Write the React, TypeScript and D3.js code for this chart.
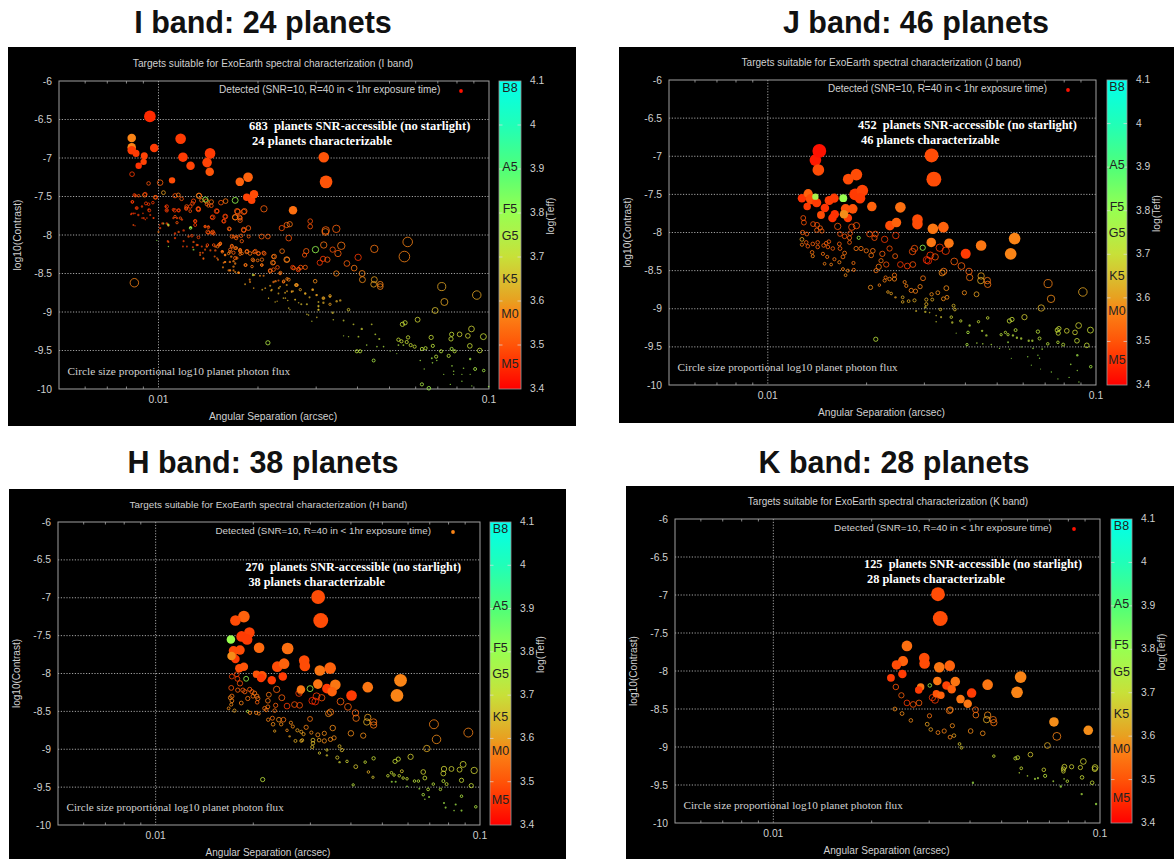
import React from "react";
import * as d3 from "d3";

type Planet = [number, number, number, number]; // log10(sep), log10(contrast), log10(Teff), log10 flux size

const yTicks = [-6, -6.5, -7, -7.5, -8, -8.5, -9, -9.5, -10];
const xMinor = [0.006, 0.007, 0.008, 0.009, 0.02, 0.03, 0.04, 0.05, 0.06, 0.07, 0.08, 0.09];
const teffTicks = [3.4, 3.5, 3.6, 3.7, 3.8, 3.9, 4, 4.1];
const spectral: [string, number][] = [["B8", 4.083], ["A5", 3.905], ["F5", 3.809], ["G5", 3.748], ["K5", 3.65], ["M0", 3.57], ["M5", 3.457]];
const teffStops = [3.4, 3.45, 3.5, 3.57, 3.6, 3.65, 3.7, 3.75, 3.8, 3.9, 4, 4.1];
const teffColors = ["#ff0000", "#ff2a00", "#ff5408", "#fa8416", "#e8a020", "#d8c030", "#c8e038", "#b0f048", "#98ff50", "#50ff78", "#20ffb8", "#00ffec"];

const iFilled: Planet[] = [
  [-2.026,-6.46,3.45,5.5],[-2.081,-6.74,3.57,4],[-2.081,-6.86,3.57,4],[-2.081,-6.9,3.47,4],[-2.068,-6.94,3.47,3.3],[-2.043,-6.97,3.48,3.3],[-2.013,-6.87,3.47,4],[-2.045,-7.05,3.48,3],[-2.06,-7.1,3.46,3],[-1.933,-6.75,3.47,5],[-1.926,-6.99,3.47,4.5],[-1.903,-7.1,3.48,4],[-1.844,-6.94,3.47,5],[-1.853,-7.06,3.48,4.5],[-1.845,-7.18,3.5,4],[-1.959,-7.29,3.49,3],[-1.754,-7.31,3.52,4],[-1.729,-7.25,3.52,4.5],[-1.733,-7.51,3.48,3.5],[-1.718,-7.55,3.48,3.5],[-1.711,-7.47,3.49,4],[-1.593,-7.68,3.54,4],[-1.5,-6.99,3.5,5],[-1.493,-7.31,3.5,6],
];
const iOpen: Planet[] = [
  [-2.08,-7.21,3.47,2.2],[-2.03,-7.33,3.5,1.7],[-1.995,-7.32,3.52,2.6],[-1.985,-7.45,3.6,1.8],[-2.042,-7.48,3.55,2],[-2.07,-7.49,3.5,1.2],[-2.06,-7.49,3.5,1.2],[-2.01,-7.51,3.55,1.7],[-1.95,-7.49,3.5,2],[-1.94,-7.48,3.55,1.8],[-1.93,-7.53,3.5,1.7],[-1.878,-7.49,3.6,2.4],[-1.87,-7.55,3.55,1.7],[-1.855,-7.56,3.55,2],[-1.858,-7.54,3.8,2.4],[-1.84,-7.57,3.55,2],[-1.84,-7.62,3.5,1.7],[-1.897,-7.59,3.5,1.7],[-1.915,-7.63,3.5,1.7],[-1.88,-7.66,3.5,2],[-1.811,-7.58,3.5,2.2],[-1.797,-7.56,3.55,2.2],[-1.768,-7.55,3.8,2.8],[-1.762,-7.69,3.52,2.5],[-1.74,-7.69,3.52,2.5],[-1.768,-7.77,3.55,2.5],[-1.755,-7.77,3.52,2.2],[-1.753,-7.81,3.52,2],[-1.742,-7.93,3.52,2.2],[-1.728,-7.91,3.52,2.2],[-1.681,-7.66,3.52,3],[-1.688,-8.02,3.52,2.3],[-1.669,-8.02,3.52,2.2],[-1.627,-7.91,3.5,2.5],[-1.612,-7.87,3.52,2.5],[-1.603,-7.86,3.55,2.5],[-1.606,-8.04,3.5,2.7],[-1.541,-7.82,3.5,2.2],[-1.541,-7.89,3.5,2.2],[-1.494,-7.94,3.52,3.5],[-1.462,-7.92,3.52,3.5],
  [-1.246,-8.09,3.57,4.5],[-1.256,-8.28,3.57,5],[-1.495,-7.96,3.55,3.2],[-1.525,-8.19,3.8,3],[-1.5,-8.13,3.55,3],[-1.447,-8.14,3.55,3.5],[-1.347,-8.18,3.55,3.5],[-1.473,-8.19,3.5,2.5],[-1.457,-8.24,3.52,3],[-1.553,-8.21,3.52,2.5],[-1.558,-8.26,3.5,2],[-1.502,-8.31,3.47,2.5],[-1.512,-8.36,3.47,2.5],[-1.489,-8.32,3.52,2.5],[-1.396,-8.29,3.47,3],[-1.43,-8.37,3.52,2.7],[-1.408,-8.43,3.55,2.7],[-1.384,-8.5,3.57,2.8],[-1.383,-8.58,3.58,2.8],[-1.462,-8.5,3.57,2.5],[-1.347,-8.58,3.6,2.8],[-1.349,-8.64,3.6,2.7],[-1.329,-8.64,3.57,2.7],[-1.329,-8.67,3.57,2.7],[-1.143,-8.67,3.61,3.8],[-1.037,-8.78,3.61,4],[-1.135,-8.87,3.61,3.3],[-1.163,-8.98,3.65,2.8],[-1.216,-9.1,3.68,2.3],[-1.254,-9.14,3.7,2],[-1.262,-9.16,3.7,2],[-1.053,-9.22,3.68,2.7],[-1.089,-9.29,3.68,2.2],[-1.064,-9.31,3.68,2.2],[-1.017,-9.32,3.7,2.8],[-1.113,-9.29,3.7,2],[-1.115,-9.35,3.7,2],[-1.175,-9.33,3.7,2],[-1.058,-9.44,3.7,2.2],[-1.028,-9.5,3.7,2.2],[-1.245,-9.33,3.7,1.6],[-1.274,-9.36,3.7,1.6],[-1.265,-9.38,3.7,1.5],[-1.249,-9.39,3.7,1.5],[-1.237,-9.43,3.7,1.5],[-1.225,-9.45,3.7,1.5],[-1.203,-9.48,3.72,1.5],[-1.192,-9.47,3.72,1.5],[-1.17,-9.44,3.72,1.5],[-1.145,-9.51,3.72,1.5],[-1.113,-9.48,3.75,1.5],[-1.104,-9.51,3.72,1.5],[-1.122,-9.57,3.72,1.5],[-1.16,-9.58,3.72,1.5],[-1.4,-9.51,3.72,1.5],[-1.39,-9.51,3.72,1.5],[-1.349,-9.63,3.75,1.4],[-1.203,-9.94,3.75,1.5],[-1.182,-9.99,3.78,1.7],[-1.042,-9.74,3.75,1.4],
  [-2.073,-8.62,3.57,4],[-1.669,-9.4,3.74,2],[-1.972,-8.08,3.48,0.9],[-1.924,-8.08,3.48,0.9],[-1.899,-8.01,3.48,1.2],[-1.879,-8.03,3.48,1.3],[-1.849,-7.97,3.5,1.5],[-1.833,-7.98,3.5,1.5],[-1.926,-8.15,3.48,0.8],[-1.914,-8.15,3.48,0.8],[-1.896,-8.16,3.48,0.9],[-1.881,-8.13,3.48,0.9],[-1.869,-8.15,3.48,0.9],[-1.852,-8.13,3.48,1.2],[-1.833,-8.13,3.5,1.2],[-1.818,-8.13,3.5,1.3],[-1.813,-8.11,3.5,1.3],[-1.866,-8.23,3.5,0.9],[-1.859,-8.19,3.5,0.9],[-1.843,-8.2,3.5,0.9],[-1.828,-8.2,3.5,1],[-1.808,-8.21,3.5,1],[-1.783,-8.19,3.52,1.5],[-1.773,-8.23,3.52,1.5],[-1.753,-8.2,3.52,1.5],[-1.768,-8.3,3.52,1.5],[-1.732,-8.21,3.52,1.7],[-1.707,-8.21,3.52,1.7],[-1.697,-8.24,3.52,1.7],[-1.682,-8.23,3.52,1.5],[-1.737,-8.39,3.55,1.4],[-1.715,-8.32,3.55,1.5],[-1.687,-8.32,3.55,1.6],[-1.717,-8.41,3.55,1.2],[-1.687,-8.39,3.55,1.2],[-1.652,-8.28,3.55,1.7],[-1.626,-8.21,3.55,2.2],[-1.611,-8.32,3.55,2.3],[-1.652,-8.36,3.55,1.7],[-1.662,-8.47,3.55,1.7],[-1.631,-8.49,3.55,1.4],[-1.591,-8.43,3.55,1.7],[-1.576,-8.44,3.55,1.5],[-1.864,-8.3,3.52,0.8],[-1.823,-8.3,3.52,0.8],[-1.803,-8.36,3.55,0.8],[-1.783,-8.46,3.55,0.9],[-1.758,-8.49,3.55,1],[-1.724,-8.58,3.57,0.9],[-1.714,-8.52,3.74,1],[-1.682,-8.53,3.57,0.9],[-1.646,-8.6,3.57,1],[-1.621,-8.6,3.57,1.2],[-1.606,-8.58,3.57,1.4],[-1.712,-8.69,3.6,0.7],[-1.677,-8.69,3.6,0.8],[-1.657,-8.71,3.6,0.8],[-1.636,-8.69,3.6,0.9],[-1.581,-8.65,3.57,1.2],[-1.611,-8.73,3.6,0.8],[-1.593,-8.73,3.6,0.8],[-1.667,-8.82,3.62,0.6],[-1.641,-8.86,3.62,0.6],[-1.616,-8.82,3.62,0.7],[-1.586,-8.84,3.62,0.7],[-1.606,-8.95,3.64,0.7],[-1.576,-8.88,3.64,0.7],
  [-1.597,-8.73,3.6,0.8],[-1.582,-8.65,3.57,1.2],[-1.556,-8.76,3.6,1],[-1.533,-8.71,3.6,1],[-1.521,-8.78,3.6,0.9],[-1.501,-8.82,3.62,1],[-1.481,-8.8,3.62,1],[-1.461,-8.86,3.62,1],[-1.45,-8.85,3.62,1],[-1.516,-8.87,3.64,0.8],[-1.516,-8.93,3.64,0.8],[-1.516,-8.97,3.64,0.8],[-1.551,-9.03,3.66,0.7],[-1.536,-9.12,3.68,0.6],[-1.471,-9.1,3.68,0.7],[-1.44,-9.11,3.68,0.8],[-1.425,-8.97,3.66,1.2],[-1.41,-9.16,3.68,0.8],[-1.385,-9.22,3.68,1],[-1.355,-9.16,3.68,0.8],[-1.395,-9.32,3.7,0.8],[-1.344,-9.29,3.7,0.8],[-1.332,-9.35,3.7,0.9],[-1.44,-9.31,3.72,0.6],[-1.425,-9.32,3.72,0.6],[-1.37,-9.43,3.74,0.7],[-1.339,-9.45,3.74,0.7],[-1.319,-9.45,3.74,0.7],[-1.274,-9.43,3.74,0.8],[-1.259,-9.43,3.74,0.8],[-1.299,-9.51,3.76,0.5],[-1.279,-9.54,3.76,0.5],[-1.208,-9.63,3.76,0.7],[-1.196,-9.74,3.76,0.6],[-1.173,-9.6,3.76,0.8],[-1.158,-9.63,3.76,0.7],[-1.171,-9.66,3.76,0.7],[-1.112,-9.7,3.76,0.7],[-1.077,-9.73,3.76,0.7],[-1.107,-9.77,3.76,0.7],[-1.137,-9.81,3.76,0.6],[-1.107,-9.81,3.76,0.6],[-1.082,-9.81,3.76,0.6],[-1.057,-9.81,3.76,0.6],[-1.016,-9.76,3.76,1.2],[-1.057,-9.61,3.76,1],[-1.117,-9.94,3.78,0.6],[-1.082,-9.9,3.78,0.6],[-1.052,-9.96,3.78,0.6],[-1.001,-9.97,3.78,0.7],
  [-2.079,-7.57,3.47,1.1],[-2.066,-7.65,3.47,1],[-2.05,-7.63,3.47,1],[-2.03,-7.6,3.47,1.2],[-2.017,-7.58,3.47,1.2],[-2.071,-7.72,3.45,0.7],[-2.081,-7.72,3.45,0.7],[-2.047,-7.72,3.47,0.7],[-2.03,-7.67,3.47,0.9],[-2.05,-7.78,3.47,0.7],[-2.035,-7.78,3.47,0.7],[-2.015,-7.78,3.47,0.7],[-2.071,-7.88,3.45,0.6],[-2.04,-7.8,3.47,0.7],[-1.997,-7.87,3.47,0.7],[-1.978,-7.63,3.48,1],[-1.975,-7.68,3.48,1],[-1.955,-7.67,3.48,1.1],[-1.939,-7.68,3.48,1.1],[-1.955,-7.78,3.48,1],[-1.944,-7.78,3.48,1],[-1.929,-7.8,3.48,1],[-1.904,-7.9,3.5,0.9],[-1.889,-7.82,3.5,1.2],[-1.879,-7.66,3.5,1.7],[-1.904,-7.69,3.5,1.3],[-1.916,-7.65,3.5,1.4],[-1.854,-7.6,3.52,1.5],[-1.849,-7.62,3.52,1.4],[-1.823,-7.69,3.5,1.7],[-1.838,-7.77,3.5,1.5],[-1.798,-7.76,3.5,1.7],[-1.803,-7.82,3.5,1.5],[-1.859,-7.89,3.5,1.2],[-1.849,-7.9,3.5,1.2],[-1.838,-7.97,3.5,1.4],[-1.785,-7.92,3.52,1.3],[-1.763,-8.02,3.52,1.2],[-1.727,-8.02,3.52,1.4],[-1.773,-8.02,3.52,1.2],[-1.972,-7.86,3.8,0.8],[-1.985,-7.85,3.8,0.8],[-1.97,-7.88,3.5,0.9],[-1.902,-7.9,3.8,1],
];
const iBand: Planet[] = [
  [-1.854,-8.15,3.52,1],[-1.828,-8.15,3.52,1],[-1.813,-8.11,3.55,1.1],[-1.806,-8.21,3.55,1],[-1.798,-8.26,3.57,1],[-1.83,-8.28,3.52,0.9],[-1.82,-8.32,3.55,0.9],[-1.788,-8.24,3.57,1.1],[-1.778,-8.14,3.55,1.4],[-1.765,-8.17,3.55,1.4],[-1.753,-8.21,3.55,1.4],[-1.747,-8.24,3.55,1.2],[-1.78,-8.28,3.57,1],[-1.773,-8.34,3.57,1],[-1.763,-8.3,3.55,1.1],[-1.798,-8.35,3.57,0.9],[-1.805,-8.42,3.57,0.9],[-1.788,-8.46,3.57,0.9],[-1.773,-8.46,3.57,0.9],[-1.757,-8.49,3.57,0.9],[-1.874,-8.23,3.52,0.9],[-1.864,-8.31,3.52,0.9],[-1.874,-8.26,3.52,0.9],[-1.884,-8.13,3.5,1],[-1.894,-8.09,3.5,1],[-1.909,-8.02,3.5,1],[-1.939,-7.96,3.5,1],[-1.95,-7.98,3.47,1],[-1.95,-8.04,3.47,1],[-1.97,-8.09,3.5,0.9],[-1.924,-7.94,3.47,1],[-1.975,-7.85,3.47,1],[-1.995,-7.91,3.48,1],[-2,-7.96,3.55,0.9],[-1.988,-7.85,3.47,1],[-2.015,-7.78,3.47,0.9],[-2.025,-7.74,3.47,0.9],[-2.045,-7.78,3.47,1],[-2.061,-7.74,3.47,1],[-2.076,-7.87,3.5,0.8],[-2.076,-7.72,3.47,0.9],[-2.083,-7.73,3.47,0.9],[-2.066,-7.65,3.47,1.4],[-2.038,-7.59,3.47,1.4],[-2.028,-7.68,3.47,1.4],[-2.079,-7.57,3.47,1.3],[-2.073,-7.48,3.47,1.3],[-2.04,-7.47,3.47,1.7],[-2.008,-7.51,3.48,1.7],[-1.975,-7.63,3.47,1.6],[-1.975,-7.68,3.47,1.6],[-1.951,-7.68,3.47,1.6],[-1.939,-7.68,3.47,1.6],[-1.95,-7.76,3.5,1.1],[-1.934,-7.78,3.5,1.1],[-1.944,-7.84,3.5,1.1],[-1.904,-7.63,3.48,1.7],[-1.916,-7.66,3.48,1.5],[-1.879,-7.67,3.48,2],[-1.894,-7.56,3.48,2],[-1.877,-7.49,3.52,2.4],[-1.889,-7.82,3.47,1.6],[-1.889,-7.87,3.47,1.4],[-1.903,-7.91,3.8,1.2],[-1.97,-7.87,3.72,1],[-1.851,-7.96,3.5,1.8],[-1.836,-7.96,3.5,1.7],[-1.859,-7.89,3.5,1],[-1.849,-7.89,3.5,1],[-1.894,-8.19,3.8,0.8],[-1.97,-8.15,3.8,0.6],[-2.005,-8.07,3.8,0.5],[-1.836,-7.77,3.47,2.2],[-1.798,-7.76,3.47,2.3],[-1.802,-7.82,3.47,1.9],[-1.824,-7.69,3.47,2.3],[-1.76,-7.7,3.5,2.5],[-1.742,-7.7,3.5,2.5],[-1.768,-7.77,3.55,2.5],[-1.753,-7.78,3.52,2],[-1.786,-7.92,3.52,1.8],[-1.778,-8.02,3.52,1.6],[-1.765,-8.04,3.52,1.6],[-1.75,-8.01,3.52,1.6],[-1.748,-8.08,3.52,1.6],[-1.742,-7.94,3.5,2],
  [-1.814,-8.12,3.55,1.3],[-1.821,-8.15,3.55,1.3],[-1.807,-8.22,3.55,1.1],[-1.799,-8.26,3.55,1],[-1.784,-8.22,3.55,1.2],[-1.768,-8.17,3.55,1.3],[-1.753,-8.19,3.55,1.2],[-1.753,-8.25,3.55,1.2],[-1.778,-8.15,3.52,1.5],[-1.733,-8.22,3.55,1.7],[-1.723,-8.24,3.55,1.7],[-1.71,-8.22,3.52,1.7],[-1.698,-8.24,3.52,1.7],[-1.68,-8.24,3.52,1.7],[-1.7,-8.33,3.55,1.3],[-1.713,-8.33,3.55,1.3],[-1.736,-8.39,3.55,1.2],[-1.688,-8.39,3.55,1.2],[-1.784,-8.35,3.55,1],[-1.768,-8.37,3.57,1],[-1.799,-8.35,3.57,0.9],[-1.773,-8.41,3.57,1],[-1.784,-8.46,3.57,0.9],[-1.768,-8.48,3.58,0.9],[-1.758,-8.49,3.58,1],[-1.723,-8.61,3.58,0.9],[-1.738,-8.64,3.6,0.8],[-1.686,-8.71,3.62,0.8],[-1.71,-8.52,3.58,0.9],[-1.693,-8.53,3.58,0.9],[-1.652,-8.61,3.55,1],[-1.637,-8.59,3.52,0.9],[-1.622,-8.61,3.55,1.1],[-1.611,-8.57,3.57,1.2],[-1.662,-8.66,3.6,0.9],[-1.659,-8.72,3.62,0.9],[-1.632,-8.67,3.62,0.8],[-1.612,-8.65,3.6,0.9],[-1.584,-8.65,3.6,1.4],[-1.571,-8.71,3.6,1.1],[-1.617,-8.75,3.62,0.8],[-1.637,-8.76,3.62,0.8],[-1.597,-8.74,3.6,0.8],[-1.556,-8.76,3.62,0.9],[-1.534,-8.71,3.6,1],[-1.522,-8.78,3.6,1],[-1.543,-8.81,3.62,0.9],[-1.526,-8.6,3.58,1.7],[-1.501,-8.82,3.6,1.3],[-1.481,-8.79,3.6,1.2],[-1.481,-8.9,3.6,1.1],[-1.501,-8.88,3.62,1],[-1.647,-8.87,3.64,0.7],[-1.667,-8.82,3.64,0.5],[-1.622,-8.82,3.64,0.7],[-1.609,-8.85,3.64,0.7],[-1.587,-8.84,3.64,0.7],[-1.568,-8.9,3.65,0.9],[-1.551,-8.9,3.65,0.9],[-1.602,-8.97,3.65,0.6],[-1.516,-8.92,3.65,0.9],[-1.516,-8.97,3.65,0.9],[-1.546,-9.04,3.65,0.7],[-1.521,-9.07,3.65,0.7],[-1.473,-9.01,3.65,1],[-1.662,-8.46,3.52,1.7],[-1.652,-8.45,3.52,1.7],[-1.65,-8.28,3.55,2.2],[-1.654,-8.36,3.55,2.2],[-1.612,-8.32,3.57,2.7],[-1.64,-8.42,3.5,1.7],[-1.594,-8.42,3.47,1.9],[-1.577,-8.45,3.47,2],[-1.57,-8.42,3.5,2],[-1.556,-8.42,3.52,2],[-1.632,-8.5,3.55,1.2],
];

const jFilled: Planet[] = [
  [-1.855,-7.05,3.43,5.5],[-1.843,-6.93,3.42,6.5],[-1.846,-7.18,3.49,5.5],[-1.755,-7.3,3.49,5],[-1.73,-7.24,3.49,5.5],[-1.896,-7.55,3.46,4],[-1.877,-7.49,3.52,4.3],[-1.868,-7.56,3.49,5],[-1.851,-7.61,3.47,4.3],[-1.88,-7.66,3.47,3.5],[-1.855,-7.53,3.76,3],[-1.813,-7.58,3.47,4.3],[-1.798,-7.55,3.47,4.3],[-1.77,-7.55,3.8,3.7],[-1.826,-7.68,3.46,4],[-1.838,-7.77,3.49,3.7],[-1.796,-7.76,3.46,4],[-1.803,-7.81,3.46,4],[-1.763,-7.69,3.5,4.5],[-1.741,-7.69,3.5,4.5],[-1.756,-7.81,3.47,4],[-1.768,-7.76,3.58,4],[-1.734,-7.5,3.47,5.5],[-1.712,-7.45,3.48,5.5],[-1.719,-7.55,3.47,5],[-1.683,-7.66,3.52,4.5],[-1.596,-7.67,3.54,5],[-1.628,-7.91,3.49,4.5],[-1.608,-7.87,3.52,4.5],[-1.544,-7.83,3.49,5],[-1.544,-7.89,3.49,5],[-1.497,-7.95,3.55,5],[-1.465,-7.93,3.52,5],[-1.501,-6.99,3.49,6.5],[-1.494,-7.3,3.49,7],[-1.502,-8.13,3.55,4.5],[-1.448,-8.14,3.55,4.5],[-1.397,-8.28,3.47,4.7],[-1.35,-8.17,3.55,5],[-1.248,-8.08,3.57,5.5],[-1.26,-8.28,3.57,5.5],
];
const jOpen: Planet[] = [
  [-1.892,-7.81,3.5,2.3],[-1.89,-7.87,3.5,2.3],[-1.862,-7.89,3.5,2.3],[-1.85,-7.9,3.5,2.3],[-1.851,-7.97,3.52,2],[-1.84,-7.94,3.52,2],[-1.835,-7.98,3.52,2],[-1.787,-7.92,3.5,3],[-1.744,-7.93,3.5,3],[-1.73,-7.91,3.5,3],[-1.894,-8,3.52,2],[-1.881,-8.02,3.52,1.8],[-1.896,-8.09,3.6,1.8],[-1.896,-8.16,3.55,1.5],[-1.883,-8.13,3.52,1.7],[-1.878,-8.18,3.52,1.7],[-1.863,-8.15,3.52,1.7],[-1.848,-8.13,3.52,1.7],[-1.848,-8.19,3.52,1.7],[-1.865,-8.26,3.55,1.7],[-1.863,-8.31,3.57,1.5],[-1.83,-8.17,3.52,1.7],[-1.822,-8.14,3.52,1.7],[-1.814,-8.12,3.52,1.7],[-1.817,-8.19,3.52,1.7],[-1.802,-8.21,3.52,1.7],[-1.832,-8.28,3.55,1.5],[-1.819,-8.32,3.55,1.5],[-1.827,-8.41,3.57,1.3],[-1.807,-8.42,3.57,1.3],[-1.797,-8.35,3.55,1.5],[-1.782,-8.15,3.52,1.8],[-1.78,-8.21,3.52,1.8],[-1.78,-8.02,3.5,2.2],[-1.766,-8.05,3.5,2.2],[-1.749,-8.01,3.5,2.2],[-1.751,-8.07,3.52,2],[-1.751,-8.13,3.52,1.8],[-1.766,-8.27,3.55,1.8],[-1.771,-8.32,3.55,1.8],[-1.782,-8.39,3.57,1.5],[-1.771,-8.48,3.57,1.4],[-1.756,-8.5,3.57,1.4],[-1.739,-8.4,3.55,1.5],[-1.738,-8.49,3.55,1.5],[-1.763,-8.56,3.58,1.3],[-1.731,-8.21,3.55,2],[-1.716,-8.21,3.55,2],[-1.7,-8.24,3.55,2],[-1.685,-8.3,3.55,2.2],[-1.68,-8.24,3.55,2.2],[-1.69,-8.02,3.5,2.7],[-1.672,-8.02,3.5,2.7],[-1.675,-8.07,3.5,2.5],[-1.644,-8.09,3.47,3],[-1.61,-8.04,3.47,3],[-1.723,-8.07,3.8,1.5],[-1.629,-8.21,3.5,2.5],[-1.651,-8.28,3.52,2.5],[-1.655,-8.37,3.55,2],[-1.612,-8.31,3.52,2.3],[-1.639,-8.42,3.5,2.5],[-1.662,-8.45,3.55,2.5],[-1.67,-8.5,3.55,2],[-1.596,-8.42,3.47,2.7],[-1.575,-8.44,3.47,2.7],[-1.558,-8.42,3.5,2.7],[-1.553,-8.21,3.5,3],[-1.559,-8.25,3.5,3],[-1.528,-8.2,3.8,2.5],[-1.516,-8.36,3.45,3.2],[-1.511,-8.37,3.45,3.2],[-1.505,-8.3,3.47,3.2],[-1.49,-8.32,3.5,3],[-1.476,-8.2,3.47,3.5],[-1.458,-8.24,3.47,3.5],[-1.432,-8.38,3.52,3.2],[-1.41,-8.44,3.52,3.2],[-1.387,-8.51,3.52,3],[-1.385,-8.59,3.55,3],[-1.464,-8.51,3.55,3],[-1.469,-8.53,3.58,2.8],[-1.35,-8.57,3.6,3],[-1.351,-8.63,3.62,3],[-1.331,-8.63,3.55,3],[-1.33,-8.68,3.55,3],[-1.146,-8.67,3.57,3.8],[-1.137,-8.87,3.58,3.5],[-1.167,-8.99,3.63,3],[-1.218,-9.11,3.67,2.5],[-1.256,-9.14,3.7,2],[-1.264,-9.16,3.7,2],[-1.671,-9.4,3.72,2],
  [-1.527,-8.6,3.55,2.3],[-1.536,-8.71,3.57,2],[-1.563,-8.76,3.57,2],[-1.55,-8.77,3.57,2],[-1.583,-8.65,3.57,1.5],[-1.578,-8.7,3.57,1.5],[-1.614,-8.56,3.55,2],[-1.614,-8.61,3.57,2],[-1.629,-8.61,3.57,1.7],[-1.644,-8.63,3.57,1.5],[-1.641,-8.59,3.55,1.5],[-1.66,-8.69,3.57,1.2],[-1.687,-8.72,3.58,2],[-1.634,-8.78,3.6,1.2],[-1.624,-8.8,3.6,1.2],[-1.611,-8.85,3.6,1],[-1.589,-8.85,3.62,1.3],[-1.571,-8.9,3.62,1.3],[-1.553,-8.89,3.62,1.5],[-1.589,-8.91,3.62,1.2],[-1.517,-8.88,3.62,1.5],[-1.517,-8.94,3.62,1.5],[-1.499,-8.88,3.62,1.4],[-1.501,-8.81,3.58,1.6],[-1.482,-8.79,3.58,1.8],[-1.465,-8.87,3.58,1.8],[-1.454,-8.85,3.58,1.8],[-1.456,-8.73,3.58,2.3],[-1.401,-8.79,3.58,2],[-1.364,-8.81,3.6,2.3],[-1.474,-9.01,3.64,1.2],[-1.434,-8.96,3.64,1.4],[-1.43,-9.01,3.64,1.3],[-1.548,-9.03,3.64,0.9],[-1.52,-8.98,3.66,1],[-1.52,-9.04,3.66,1],[-1.507,-9.05,3.66,0.7],[-1.487,-9.09,3.66,0.7],[-1.472,-9.11,3.66,0.9],[-1.487,-9.17,3.68,0.7],[-1.441,-9.11,3.68,1.2],[-1.438,-9.18,3.68,1],[-1.412,-9.16,3.7,1.1],[-1.358,-9.17,3.7,1.1],[-1.33,-9.12,3.7,1.2],[-1.385,-9.22,3.72,1],[-1.39,-9.31,3.74,1.2],[-1.426,-9.32,3.74,0.5],[-1.347,-9.29,3.72,1],[-1.334,-9.35,3.72,1],[-1.393,-9.47,3.74,1.1],[-1.363,-9.45,3.74,0.7],[-1.345,-9.46,3.74,0.7],[-1.319,-9.47,3.74,0.7],[-1.289,-9.34,3.72,1.1],[-1.276,-9.31,3.72,1.1],[-1.268,-9.34,3.72,1.1],[-1.245,-9.28,3.72,1.4],[-1.253,-9.35,3.72,1],[-1.241,-9.38,3.72,1],[-1.228,-9.39,3.72,1],[-1.205,-9.42,3.72,1],[-1.194,-9.42,3.72,1],[-1.177,-9.3,3.72,1.6],[-1.172,-9.39,3.72,1.4],[-1.147,-9.46,3.72,1.2],[-1.118,-9.28,3.7,2],[-1.116,-9.44,3.72,1.2],[-1.294,-9.52,3.76,0.6],[-1.268,-9.44,3.76,0.8],[-1.263,-9.53,3.76,0.6],[-1.228,-9.5,3.76,0.6],[-1.192,-9.52,3.76,0.7],[-1.164,-9.53,3.76,0.7],[-1.208,-9.63,3.78,0.6],[-1.177,-9.61,3.78,0.6],[-1.172,-9.65,3.78,0.6],[-1.197,-9.74,3.78,0.5],[-1.169,-9.79,3.78,0.5],[-1.136,-9.83,3.78,0.6],[-1.116,-9.92,3.78,0.6],[-1.258,-9.65,3.78,0.5],
  [-1.04,-8.78,3.61,4],[-1.053,-9.22,3.68,2.7],[-1.089,-9.29,3.68,2.2],[-1.064,-9.31,3.68,2.2],[-1.017,-9.28,3.7,2.8],[-1.113,-9.26,3.7,2],[-1.115,-9.32,3.7,2],[-1.058,-9.42,3.7,2.2],[-1.028,-9.48,3.7,2.2],[-1.1,-9.47,3.72,1.4],[-1.077,-9.73,3.76,0.7],[-1.057,-9.81,3.76,0.6],[-1.016,-9.76,3.76,1.2],[-1.057,-9.61,3.76,1],[-1.082,-9.9,3.78,0.6],[-1.052,-9.96,3.78,0.6],
];

const hFilled: Planet[] = [
  [-1.728,-7.25,3.52,5.5],[-1.754,-7.3,3.49,5],[-1.711,-7.46,3.48,5],[-1.735,-7.51,3.47,5],[-1.718,-7.55,3.47,5],[-1.768,-7.55,3.8,4],[-1.76,-7.7,3.49,4.5],[-1.74,-7.69,3.49,4.5],[-1.754,-7.81,3.47,4],[-1.766,-7.77,3.58,4],[-1.742,-7.93,3.49,4],[-1.728,-7.91,3.5,4],[-1.681,-7.66,3.53,5],[-1.593,-7.67,3.54,5.5],[-1.625,-7.91,3.49,5],[-1.604,-7.87,3.52,5],[-1.542,-7.83,3.49,5],[-1.54,-7.9,3.49,5],[-1.494,-7.96,3.55,5],[-1.462,-7.93,3.52,5.5],[-1.499,-6.99,3.49,6.5],[-1.491,-7.3,3.49,7],[-1.689,-8.01,3.5,3.5],[-1.672,-8.03,3.5,4.5],[-1.675,-8.06,3.47,4],[-1.642,-8.09,3.47,4],[-1.608,-8.04,3.47,4],[-1.552,-8.21,3.55,4],[-1.5,-8.14,3.55,4.5],[-1.472,-8.2,3.47,4.5],[-1.446,-8.15,3.55,5],[-1.456,-8.24,3.52,4.5],[-1.396,-8.29,3.47,5],[-1.346,-8.18,3.55,5],[-1.245,-8.09,3.57,6],[-1.256,-8.29,3.57,6],
];
const hOpen: Planet[] = [
  [-1.765,-8.04,3.48,2.3],[-1.75,-8.01,3.48,2.3],[-1.748,-8.07,3.48,2.3],[-1.721,-8.07,3.8,2.3],[-1.74,-8.13,3.5,2.5],[-1.767,-8.19,3.5,2.3],[-1.747,-8.22,3.52,2],[-1.765,-8.3,3.55,2],[-1.77,-8.32,3.57,1.8],[-1.765,-8.36,3.57,1.8],[-1.767,-8.41,3.58,1.5],[-1.775,-8.46,3.58,1.3],[-1.757,-8.49,3.6,1.5],[-1.736,-8.39,3.57,1.8],[-1.731,-8.22,3.52,2],[-1.725,-8.24,3.52,2],[-1.71,-8.21,3.52,2],[-1.716,-8.33,3.55,2],[-1.703,-8.24,3.52,2],[-1.695,-8.26,3.55,2],[-1.688,-8.3,3.55,2],[-1.685,-8.33,3.55,2],[-1.687,-8.38,3.52,1.7],[-1.7,-8.3,3.55,1.8],[-1.716,-8.5,3.74,1.2],[-1.709,-8.52,3.57,1.5],[-1.69,-8.52,3.57,1.5],[-1.682,-8.53,3.57,1.4],[-1.664,-8.46,3.55,1.8],[-1.654,-8.44,3.55,1.8],[-1.659,-8.48,3.55,1.7],[-1.63,-8.42,3.52,2],[-1.651,-8.28,3.55,2.3],[-1.654,-8.36,3.55,2.2],[-1.627,-8.21,3.52,3],[-1.611,-8.32,3.52,2.8],[-1.633,-8.49,3.55,1.7],[-1.64,-8.59,3.55,1.9],[-1.653,-8.61,3.57,1.6],[-1.638,-8.67,3.58,1.7],[-1.62,-8.61,3.58,2.2],[-1.606,-8.61,3.55,2.2],[-1.613,-8.67,3.58,1.6],[-1.633,-8.76,3.6,1.1],[-1.595,-8.75,3.58,1.2],[-1.595,-8.43,3.47,2.7],[-1.572,-8.41,3.5,2.7],[-1.556,-8.42,3.5,2.7],[-1.558,-8.26,3.47,3],[-1.554,-8.24,3.5,2.5],[-1.524,-8.2,3.78,2.8],[-1.517,-8.36,3.45,3.2],[-1.508,-8.37,3.45,3.2],[-1.504,-8.3,3.47,3.2],[-1.488,-8.32,3.5,3],[-1.43,-8.37,3.52,3.2],[-1.407,-8.44,3.52,3.2],[-1.384,-8.52,3.52,3],[-1.382,-8.59,3.55,3],[-1.461,-8.51,3.55,3],[-1.467,-8.53,3.58,2.8],[-1.346,-8.58,3.6,3],[-1.349,-8.64,3.62,3],[-1.328,-8.64,3.55,3],[-1.328,-8.68,3.55,3],[-1.142,-8.67,3.57,4.2],[-1.036,-8.78,3.57,4.2],[-1.134,-8.87,3.58,4],[-1.164,-8.99,3.62,3],[-1.214,-9.1,3.67,2.5],[-1.252,-9.13,3.7,2],[-1.262,-9.16,3.7,2],[-1.67,-9.4,3.72,2],
  [-1.524,-8.6,3.55,2.3],[-1.536,-8.71,3.57,2],[-1.583,-8.65,3.58,1.5],[-1.577,-8.7,3.58,1.5],[-1.563,-8.75,3.6,1.5],[-1.551,-8.77,3.6,1.5],[-1.544,-8.8,3.6,1.5],[-1.587,-8.83,3.6,1],[-1.569,-8.89,3.62,1.4],[-1.551,-8.89,3.62,1.4],[-1.548,-8.88,3.62,1.4],[-1.52,-8.78,3.58,1.5],[-1.5,-8.81,3.58,1.9],[-1.48,-8.79,3.58,2],[-1.496,-8.88,3.6,1.7],[-1.515,-8.88,3.64,1.8],[-1.515,-8.92,3.64,1.7],[-1.517,-8.97,3.64,1.5],[-1.48,-8.89,3.58,2],[-1.461,-8.87,3.58,2],[-1.45,-8.85,3.58,2],[-1.454,-8.72,3.58,2.6],[-1.398,-8.79,3.58,2.6],[-1.36,-8.82,3.58,2.5],[-1.433,-8.96,3.64,1.4],[-1.426,-9.01,3.64,1.6],[-1.472,-9.01,3.66,1.1],[-1.495,-9.05,3.66,1.1],[-1.472,-9.08,3.66,1],[-1.44,-9.11,3.66,1.5],[-1.433,-9.17,3.68,1],[-1.41,-9.16,3.68,1.2],[-1.354,-9.17,3.7,1.2],[-1.328,-9.12,3.7,1.6],[-1.383,-9.23,3.66,1.8],[-1.391,-9.47,3.72,1.1],[-1.344,-9.3,3.62,1.2],[-1.33,-9.37,3.66,1.1],[-1.284,-9.35,3.7,1.2],[-1.273,-9.31,3.7,1.2],[-1.265,-9.34,3.7,1.2],[-1.241,-9.29,3.66,1.4],[-1.249,-9.35,3.7,1.2],[-1.237,-9.38,3.7,1.2],[-1.225,-9.39,3.7,1.2],[-1.202,-9.42,3.72,1.2],[-1.19,-9.42,3.72,1.2],[-1.175,-9.3,3.68,2.2],[-1.17,-9.38,3.7,1.8],[-1.144,-9.46,3.72,1.2],[-1.122,-9.53,3.72,1.2],[-1.16,-9.53,3.72,1.3],[-1.111,-9.26,3.68,2.5],[-1.113,-9.32,3.68,2.3],[-1.103,-9.46,3.7,1.4],[-1.088,-9.26,3.68,2.3],[-1.063,-9.27,3.68,2.3],[-1.052,-9.2,3.68,2.8],[-1.018,-9.28,3.68,3],[-1.057,-9.41,3.7,2],[-1.027,-9.48,3.7,2],[-1.113,-9.42,3.72,1.4],[-1.272,-9.43,3.76,0.9],[-1.26,-9.43,3.76,0.9],[-1.225,-9.49,3.76,0.8],[-1.187,-9.52,3.76,0.8],[-1.175,-9.6,3.74,1.2],[-1.157,-9.63,3.76,0.9],[-1.17,-9.66,3.74,0.7],[-1.111,-9.71,3.76,0.9],[-1.075,-9.73,3.76,0.9],[-1.106,-9.77,3.76,0.9],[-1.08,-9.81,3.76,0.7],[-1.057,-9.81,3.76,0.9],[-1.057,-9.62,3.74,1.2],[-1.013,-9.76,3.74,1.2],
];

const kFilled: Planet[] = [
  [-1.496,-6.99,3.49,6.5],[-1.489,-7.31,3.49,7],[-1.591,-7.67,3.54,5],[-1.603,-7.87,3.52,4.8],[-1.623,-7.92,3.49,4.5],[-1.538,-7.83,3.49,5],[-1.537,-7.9,3.49,5],[-1.492,-7.95,3.55,5],[-1.46,-7.93,3.52,5],[-1.64,-8.09,3.47,3.7],[-1.605,-8.04,3.47,4],[-1.498,-8.13,3.55,4],[-1.549,-8.21,3.55,3.5],[-1.555,-8.25,3.47,3.5],[-1.47,-8.19,3.48,4],[-1.454,-8.24,3.52,4],[-1.443,-8.14,3.55,4.5],[-1.501,-8.3,3.5,3.5],[-1.487,-8.32,3.52,3.5],[-1.393,-8.29,3.47,4.5],[-1.427,-8.37,3.55,4],[-1.405,-8.43,3.55,4],[-1.344,-8.18,3.55,5],[-1.243,-8.08,3.57,5.5],[-1.254,-8.28,3.57,5.5],[-1.141,-8.67,3.58,4.5],[-1.036,-8.78,3.58,4.5],
];
const kOpen: Planet[] = [
  [-1.625,-8.21,3.5,2.6],[-1.608,-8.32,3.52,2.5],[-1.591,-8.42,3.47,2.7],[-1.572,-8.44,3.5,2.7],[-1.554,-8.42,3.52,2.7],[-1.521,-8.19,3.78,1.7],[-1.513,-8.35,3.47,3],[-1.505,-8.38,3.47,3.2],[-1.461,-8.52,3.55,3],[-1.458,-8.51,3.57,2.7],[-1.381,-8.51,3.52,2.7],[-1.38,-8.58,3.55,2.7],[-1.344,-8.58,3.58,3],[-1.347,-8.64,3.62,3],[-1.327,-8.64,3.55,3],[-1.325,-8.68,3.55,3],[-1.628,-8.5,3.58,1.8],[-1.606,-8.56,3.58,1.8],[-1.579,-8.65,3.58,1.7],[-1.522,-8.59,3.55,2],[-1.529,-8.7,3.6,1.8],[-1.518,-8.77,3.6,1.7],[-1.496,-8.81,3.57,1.8],[-1.477,-8.79,3.57,2],[-1.452,-8.72,3.58,2],[-1.459,-8.87,3.57,1.8],[-1.447,-8.85,3.6,1.7],[-1.396,-8.79,3.58,2.2],[-1.359,-8.82,3.58,2.2],[-1.43,-8.96,3.66,1.3],[-1.424,-9.01,3.66,1.3],[-1.132,-8.86,3.57,3.7],[-1.161,-8.98,3.62,2.7],[-1.213,-9.1,3.66,2.2],[-1.252,-9.14,3.7,1.8],[-1.259,-9.15,3.7,1.5],[-1.325,-9.12,3.7,1.2],[-1.241,-9.28,3.7,1.3],[-1.247,-9.34,3.72,0.7],[-1.222,-9.38,3.72,0.7],[-1.199,-9.42,3.74,0.9],[-1.19,-9.41,3.74,0.9],[-1.172,-9.3,3.68,1.7],[-1.168,-9.38,3.72,1.5],[-1.143,-9.45,3.74,0.8],[-1.12,-9.52,3.76,1],[-1.109,-9.26,3.68,2.3],[-1.112,-9.29,3.68,2],[-1.112,-9.32,3.68,1.7],[-1.087,-9.26,3.68,2],[-1.06,-9.27,3.68,2],[-1.051,-9.19,3.68,2.7],[-1.015,-9.27,3.68,2.7],[-1.016,-9.29,3.68,2.4],[-1.055,-9.4,3.7,1.7],[-1.024,-9.47,3.7,1.7],[-1.1,-9.45,3.72,1.2],[-1.11,-9.42,3.74,0.7],[-1.056,-9.62,3.74,1],[-1.012,-9.75,3.76,1],[-1.389,-9.47,3.76,1],
];

const bandNames = ["I", "J", "H", "K"];
const characterizable = [24, 46, 38, 28];
const accessible = [683, 452, 270, 125];

const sizeScale = d3.scaleLinear().domain([0, 8]).range([0, 8.5]);
const teffColor = d3.scaleLinear<string>().domain(teffStops).range(teffColors);

// fs scales the gnuplot text per panel, since each screenshot was resized a little differently
const panels = [
  { band: 0, box: [8, 47, 576, 426], plot: [59, 81, 489, 389], bar: [499, 521], titleX: 273, titleY: 33, titleCx: 263, filled: iFilled, open: [...iOpen, ...iBand], detectedTeff: 3.42, dotDx: 402, fs: 1, textDx: 0 },
  { band: 1, box: [619, 47, 1174, 423], plot: [669, 80, 1096, 385], bar: [1107, 1127], titleX: 881.5, titleY: 33, titleCx: 916, filled: jFilled, open: jOpen, detectedTeff: 3.42, dotDx: 399, fs: 0.99, textDx: -1 },
  { band: 2, box: [9, 489, 566, 859], plot: [58, 522, 480, 825], bar: [490, 511], titleX: 268.5, titleY: 473, titleCx: 263, filled: hFilled, open: hOpen, detectedTeff: 3.57, dotDx: 395, fs: 0.975, textDx: -2.5 },
  { band: 3, box: [626, 486, 1174, 859], plot: [675, 519, 1100, 823], bar: [1111, 1132], titleX: 888, titleY: 473, titleCx: 894, filled: kFilled, open: kOpen, detectedTeff: 3.42, dotDx: 399, fs: 0.985, textDx: -1 },
];

const SANS = "'Liberation Sans', Arial, sans-serif";
const SERIF = "'Liberation Serif', 'Times New Roman', serif";
const GREY = "#d0d0d0";

const Panel = ({ p }: { p: (typeof panels)[number] }) => {
  const [bx0, by0, bx1, by1] = p.box;
  const [px0, py0, px1, py1] = p.plot;
  const x = d3.scaleLog().domain([0.005, 0.1]).range([px0, px1]);
  const y = d3.scaleLinear().domain([-10, -6]).range([py1, py0]);
  const t = d3.scaleLinear().domain([3.4, 4.1]).range([py1, py0]);
  const gradId = `bar${p.band}`;
  const band = bandNames[p.band];
  const midY = (py0 + py1) / 2;
  const barMid = (p.bar[0] + p.bar[1]) / 2;
  return (
    <g>
      <defs>
        <linearGradient id={gradId} x1="0" y1="1" x2="0" y2="0">
          {teffStops.map((s, i) => (
            <stop key={i} offset={(s - 3.4) / 0.7} stopColor={teffColors[i]} />
          ))}
        </linearGradient>
      </defs>
      <rect x={bx0} y={by0} width={bx1 - bx0} height={by1 - by0} fill="#000" />
      <text x={p.titleCx} y={p.titleY} fontFamily={SANS} fontSize={30.5} fontWeight="bold" fill="#111" textAnchor="middle">
        {band} band: {characterizable[p.band]} planets
      </text>
      <text x={p.titleX} y={py0 - 14} fontFamily={SANS} fontSize={10.15 * p.fs} fill={GREY} textAnchor="middle">
        Targets suitable for ExoEarth spectral characterization ({band} band)
      </text>

      {yTicks.slice(1, -1).map((v) => (
        <line key={v} x1={px0} x2={px1} y1={y(v)} y2={y(v)} stroke="#ccc" strokeWidth={0.8} strokeDasharray="1.2 1.6" />
      ))}
      <line x1={x(0.01)} x2={x(0.01)} y1={py0} y2={py1} stroke="#ccc" strokeWidth={0.8} strokeDasharray="1.2 1.6" />
      {xMinor.map((v) => (
        <g key={v} stroke="#aaa" strokeWidth={0.8}>
          <line x1={x(v)} x2={x(v)} y1={py0} y2={py0 + 2.5} />
          <line x1={x(v)} x2={x(v)} y1={py1} y2={py1 - 2.5} />
        </g>
      ))}
      <rect x={px0} y={py0} width={px1 - px0} height={py1 - py0} fill="none" stroke="#a0a0a0" strokeWidth={1} />

      {yTicks.map((v) => (
        <text key={v} x={px0 - 7} y={y(v) + 3.5} fontFamily={SANS} fontSize={10.3} fill={GREY} textAnchor="end">
          {v}
        </text>
      ))}
      {[0.01, 0.1].map((v) => (
        <text key={v} x={x(v)} y={py1 + 14} fontFamily={SANS} fontSize={10.3} fill={GREY} textAnchor="middle">
          {v}
        </text>
      ))}
      <text x={(px0 + px1) / 2 - 1} y={py1 + 31} fontFamily={SANS} fontSize={10.3 * p.fs} fill={GREY} textAnchor="middle">
        Angular Separation (arcsec)
      </text>
      <text transform={`translate(${px0 - 38},${midY}) rotate(-90)`} fontFamily={SANS} fontSize={10.3 * p.fs} fill={GREY} textAnchor="middle">
        log10(Contrast)
      </text>

      <text x={px0 + 160 + p.textDx} y={py0 + 11.5} fontFamily={SANS} fontSize={10.1 * p.fs} fill={GREY}>
        Detected (SNR=10, R=40 in {"<"} 1hr exposure time)
      </text>
      <circle cx={px0 + p.dotDx} cy={py0 + 10} r={1.9} fill={teffColor(p.detectedTeff)} />
      <text x={px0 + 190 + p.textDx} y={py0 + 48.5} fontFamily={SERIF} fontSize={12.55 * p.fs} fontWeight="bold" fill="#fff" xmlSpace="preserve">
        {accessible[p.band]}  planets SNR-accessible (no starlight)
      </text>
      <text x={px0 + 193 + p.textDx} y={py0 + 64} fontFamily={SERIF} fontSize={12.55 * p.fs} fontWeight="bold" fill="#fff">
        {characterizable[p.band]} planets characterizable
      </text>
      <text x={px0 + 8.5} y={py1 - 14} fontFamily={SERIF} fontSize={11.4 * p.fs} fill={GREY}>
        Circle size proportional log10 planet photon flux
      </text>

      {p.open.map((d, i) =>
        d[3] < 1.1 ? (
          <circle key={i} cx={x(10 ** d[0])} cy={y(d[1])} r={sizeScale(d[3]) * 1.1} fill={teffColor(d[2])} fillOpacity={0.72} />
        ) : (
          <circle key={i} cx={x(10 ** d[0])} cy={y(d[1])} r={sizeScale(d[3])} fill="none" stroke={teffColor(d[2])} strokeOpacity={0.8} strokeWidth={1} />
        )
      )}
      {p.filled.map((d, i) => (
        <circle key={i} cx={x(10 ** d[0])} cy={y(d[1])} r={sizeScale(d[3])} fill={teffColor(d[2])} />
      ))}

      <rect x={p.bar[0]} y={py0} width={p.bar[1] - p.bar[0]} height={py1 - py0} fill={`url(#${gradId})`} stroke="#999" strokeWidth={0.8} />
      {teffTicks.slice(1, -1).map((v) => (
        <g key={v} stroke="#ddd" strokeWidth={0.7}>
          <line x1={p.bar[0]} x2={p.bar[0] + 3.5} y1={t(v)} y2={t(v)} />
          <line x1={p.bar[1] - 3.5} x2={p.bar[1]} y1={t(v)} y2={t(v)} />
        </g>
      ))}
      {spectral.map(([name, v]) => (
        <text key={name} x={barMid} y={t(v) + 4} fontFamily={SANS} fontSize={12.5} fill="#222" textAnchor="middle">
          {name}
        </text>
      ))}
      {teffTicks.map((v) => (
        <text key={v} x={p.bar[1] + 9} y={t(v) + 3} fontFamily={SANS} fontSize={10.3} fill={GREY}>
          {v}
        </text>
      ))}
      <text transform={`translate(${p.bar[1] + 33},${midY - 19}) rotate(-90)`} fontFamily={SANS} fontSize={10.3} fill={GREY} textAnchor="middle">
        log(Teff)
      </text>
    </g>
  );
};

export default function App() {
  return (
    <svg width={1174} height={859} style={{ position: "absolute", left: 0, top: 0, background: "#fff" }}>
      {panels.map((p) => (
        <Panel key={p.band} p={p} />
      ))}
    </svg>
  );
}
